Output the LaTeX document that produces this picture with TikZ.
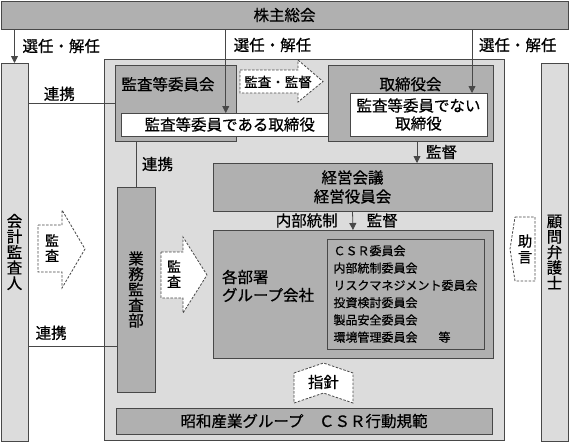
\documentclass[tikz,border=0pt]{standalone}
\usepackage{fontspec}
\setmainfont{Noto Sans CJK JP}[FakeBold=0.6]
\definecolor{PanelGray}{RGB}{220,220,220}
\definecolor{BoxGray}{RGB}{176,176,176}
\definecolor{EdgeGray}{RGB}{72,72,72}
\usetikzlibrary{arrows.meta, positioning}

\begin{document}
\begin{tikzpicture}[x=1pt, y=-1pt,
        every node/.style={inner sep=0pt, outer sep=0pt},
        panel/.style={rectangle, draw=EdgeGray, line width=0.8pt, fill=PanelGray, anchor=north west},
        block/.style={rectangle, draw=EdgeGray, line width=1pt, fill=BoxGray, anchor=north west, align=center, font=\fontsize{15.5}{15.5}\selectfont},
        whitebox/.style={block, fill=white},
        txt/.style={align=center, font=\fontsize{15.5}{15.5}\selectfont},
        tag/.style={font=\fontsize{15.5}{15.5}\selectfont},
        dashbox/.style={draw=EdgeGray, dash pattern=on 2.5pt off 1.5pt, line width=0.8pt, fill=white},
        arrow/.style={draw=EdgeGray, line width=0.8pt, -{Triangle[width=7pt,length=7pt]}},
        link/.style={draw=EdgeGray, line width=0.8pt}
    ]
        \useasboundingbox (0,0) rectangle (569,442);

        % outer frame
        \node[block, minimum width=567pt, minimum height=28pt] (soukai) at (1,1) {株主総会};
        \node[panel, txt, minimum width=27pt, minimum height=378pt] (kansanin) at (1,63) {会\\計\\監\\査\\人};
        \node[panel, txt, minimum width=27pt, minimum height=378pt] (bengoshi) at (541,63) {顧\\問\\弁\\護\\士};
        \node[panel, minimum width=400pt, minimum height=381pt] (board) at (104,59) {};

        % boards
        \node[block, minimum width=121pt, minimum height=76pt] (iinkai) at (115,65) {};
        \node[tag, below right=12pt and 6.5pt of iinkai.north west] (iinkaitxt) {監査等委員会};
        \node[whitebox, minimum width=216.5pt, minimum height=23pt] (white1) at (121.5,113) {監査等委員である取締役};
        \node[block, minimum width=165pt, minimum height=76pt] (torikai) at (328,65) {};
        \node[tag, below=12pt of torikai.north] (torikaitxt) {取締役会};
        \node[whitebox, minimum width=137pt, minimum height=43pt, font=\fontsize{15.5}{18}\selectfont] (white2) at (350,93) {監査等委員でない\\取締役};

        \node[block, minimum width=279pt, minimum height=48pt, font=\fontsize{15.5}{19}\selectfont] (keiei) at (213,163) {経営会議\\経営役員会};
        \node[block, minimum width=280pt, minimum height=128pt] (busho) at (213,230) {};
        \node[tag, align=left, font=\fontsize{15.5}{18}\selectfont, right=9pt of busho.west, yshift=8pt] (bushotxt) {各部署\\グループ会社};
        \node[block, minimum width=157pt, minimum height=110pt, align=left, font=\fontsize{12}{17.3}\selectfont] (iinlist) at (327,239)
            {ＣＳＲ委員会\\内部統制委員会\\リスクマネジメント委員会\\投資検討委員会\\製品安全委員会\\環境管理委員会\hspace{1.75em}等};
        \node[block, minimum width=38pt, minimum height=205pt] (gyomu) at (117,187) {業\\務\\監\\査\\部};
        \node[block, minimum width=376pt, minimum height=26pt] (kihan) at (116,408) {昭和産業グループ　ＣＳＲ行動規範};

        % dashed arrows
        \draw[dashbox] (240,70) -- (298,70) -- (298,60) -- (323,81.5) -- (298,102) -- (298,93) -- (240,93) -- cycle;
        \node[font=\fontsize{13.5}{13.5}\selectfont] (kansatxt) at (278,82) {監査・監督};
        \draw[dashbox] (38,225) -- (62,225) -- (62,210) -- (85,249) -- (62,288) -- (62,272) -- (38,272) -- cycle;
        \node[txt, font=\fontsize{14}{15}\selectfont] (kansa1) at (52,248) {監\\査};
        \draw[dashbox] (161,252) -- (183,252) -- (183,237) -- (207,275) -- (183,313) -- (183,298) -- (161,298) -- cycle;
        \node[txt, font=\fontsize{14}{15}\selectfont] (kansa2) at (174,274) {監\\査};
        \draw[dashbox] (294,373) -- (323.5,363) -- (353,373) -- (353,403) -- (323.5,393) -- (294,403) -- cycle;
        \node[tag] (shishin) at (323.5,382) {指針};
        \draw[dashbox] (515,217) -- (535,217) -- (535,281) -- (515,281) -- (510,249) -- cycle;
        \node[txt, font=\fontsize{14.5}{16}\selectfont] (jogen) at (525,249) {助\\言};

        % connectors
        \coordinate (m1) at ([xshift=-4pt]white1.north);
        \coordinate (m2) at ([xshift=-15pt]white2.north east);
        \coordinate (m3) at ([xshift=6.5pt]torikai.south);
        \coordinate (m4) at ([yshift=46pt]gyomu.south west);

        \draw[arrow] (kansanin.north |- soukai.south) -- node[tag, right=8pt] (senin1) {選任・解任} (kansanin.north);
        \draw[arrow] (m1 |- soukai.south) -- node[tag, pos=0.19, right=8pt] (senin2) {選任・解任} (m1);
        \draw[arrow] (m2 |- soukai.south) -- node[tag, pos=0.25, right=7pt] (senin3) {選任・解任} (m2);
        \draw[link] (kansanin.east |- iinkai.west) -- node[tag, pos=0.36, above=2pt] (renkei1) {連携} (iinkai.west);
        \draw[link] (gyomu.north |- iinkai.south) -- node[tag, right=6pt] (renkei2) {連携} (gyomu.north);
        \draw[link] (kansanin.east |- m4) -- node[tag, pos=0.26, above=6pt] (renkei3) {連携} (m4);
        \draw[arrow] (m3) -- node[tag, right=9pt] (kantoku1) {監督} (m3 |- keiei.north);
        \draw[arrow] (keiei.south) -- node[tag, right=14pt] (kantoku2) {監督} node[tag, left=15pt] (naibu) {内部統制} (busho.north);
    \end{tikzpicture}
\end{document}
